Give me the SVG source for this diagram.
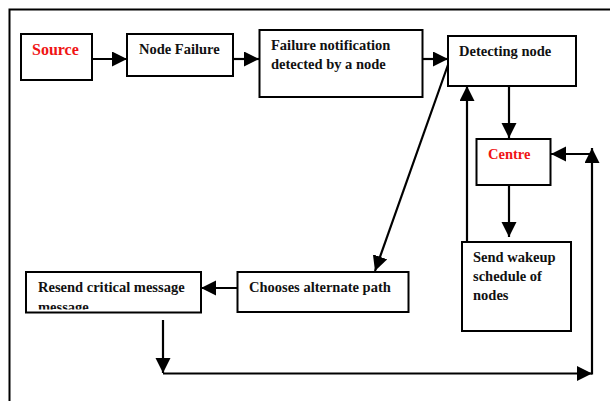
<svg xmlns="http://www.w3.org/2000/svg" width="610" height="401" viewBox="0 0 610 401">
<style>
.box{fill:#fff;stroke:#000;stroke-width:2}
.t{font-family:"Liberation Serif","Times New Roman",serif;font-weight:bold;font-size:14.5px;fill:#111}
.red{fill:#f01414}
.c{fill:none;stroke:#000;stroke-width:2.2}
</style>
<defs>
<marker id="ah" markerUnits="userSpaceOnUse" markerWidth="16" markerHeight="16" refX="15" refY="7.5" orient="auto">
<path d="M0,0 L15,7.5 L0,15 Z" fill="#000"/>
</marker>
<clipPath id="clipResend"><rect x="27" y="272" width="173" height="37.5"/></clipPath>
</defs>
<rect width="610" height="401" fill="#fff"/>
<path d="M9.5,401 V9.5 H610" fill="none" stroke="#000" stroke-width="2"/>

<g id="connectors">
<line class="c" x1="92" y1="59" x2="127" y2="59" marker-end="url(#ah)"/>
<line class="c" x1="233" y1="59" x2="259" y2="59" marker-end="url(#ah)"/>
<line class="c" x1="422" y1="59" x2="448" y2="59" marker-end="url(#ah)"/>
<line class="c" x1="449" y1="62" x2="375" y2="271" marker-end="url(#ah)"/>
<line class="c" x1="509" y1="86" x2="509" y2="138" marker-end="url(#ah)"/>
<line class="c" x1="509" y1="185" x2="509" y2="237" marker-end="url(#ah)"/>
<line class="c" x1="467" y1="242" x2="467" y2="86" marker-end="url(#ah)"/>
<line class="c" x1="592" y1="154" x2="551" y2="154" marker-end="url(#ah)"/>
<line class="c" x1="237" y1="288" x2="201" y2="288" marker-end="url(#ah)"/>
<line class="c" x1="163" y1="320" x2="163" y2="373" marker-end="url(#ah)"/>
<line class="c" x1="163" y1="373.5" x2="592" y2="373.5" marker-end="url(#ah)"/>
<line class="c" x1="592" y1="374.5" x2="592" y2="148" marker-end="url(#ah)"/>
</g>

<g id="source">
<rect class="box" x="21" y="34" width="71" height="46"/>
<text class="t red" x="32" y="55" style="font-size:16px">Source</text>
</g>
<g id="node-failure">
<rect class="box" x="127" y="34" width="106" height="42"/>
<text class="t" x="139" y="54">Node Failure</text>
</g>
<g id="failure-notification">
<rect class="box" x="259.5" y="30" width="163" height="67"/>
<text class="t" x="271" y="50">Failure notification</text>
<text class="t" x="271" y="69">detected by a node</text>
</g>
<g id="detecting-node">
<rect class="box" x="448" y="36" width="128" height="50"/>
<text class="t" x="459" y="56">Detecting node</text>
</g>
<g id="centre">
<rect class="box" x="476.5" y="139" width="74" height="46"/>
<text class="t red" x="488" y="159">Centre</text>
</g>
<g id="send-wakeup">
<rect class="box" x="462" y="242" width="109" height="89"/>
<text class="t" x="473" y="262">Send wakeup</text>
<text class="t" x="473" y="281">schedule of</text>
<text class="t" x="473" y="300">nodes</text>
</g>
<g id="chooses-alternate-path">
<rect class="box" x="237.5" y="272" width="171" height="40"/>
<text class="t" x="249" y="292">Chooses alternate path</text>
</g>
<g id="resend-critical-message">
<rect class="box" x="26" y="272" width="175" height="40.5"/>
<g clip-path="url(#clipResend)">
<text class="t" x="38" y="292">Resend critical message</text>
<text class="t" x="38" y="312">message</text>
</g>
</g>
</svg>
